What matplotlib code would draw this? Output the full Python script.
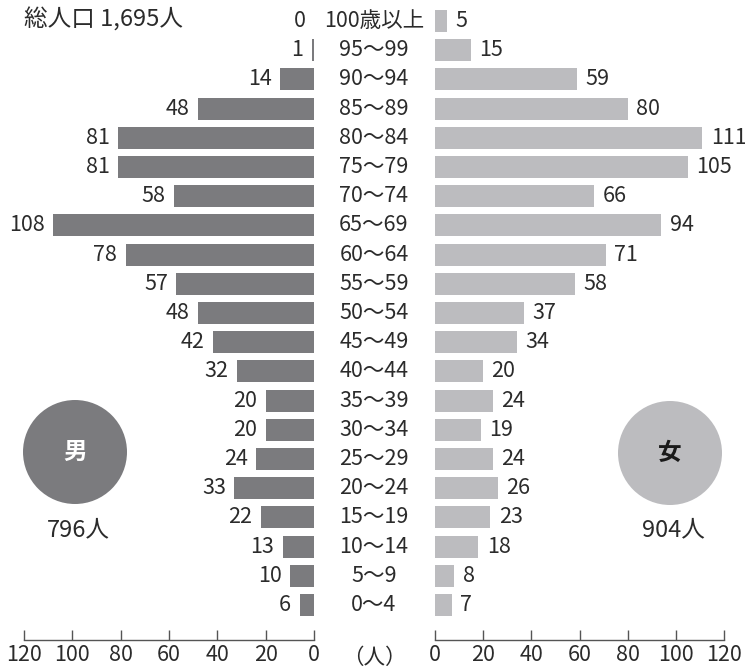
import matplotlib
matplotlib.use("Agg")
import matplotlib.pyplot as plt
from matplotlib.patches import Circle

FONT = ['Noto Sans CJK JP', 'DejaVu Sans']
plt.rcParams['font.family'] = FONT

age_labels = ["100歳以上", "95～99", "90～94", "85～89", "80～84", "75～79", "70～74",
              "65～69", "60～64", "55～59", "50～54", "45～49", "40～44", "35～39",
              "30～34", "25～29", "20～24", "15～19", "10～14", "5～9", "0～4"]
male = [0, 1, 14, 48, 81, 81, 58, 108, 78, 57, 48, 42, 32, 20, 20, 24, 33, 22, 13, 10, 6]
female = [5, 15, 59, 80, 111, 105, 66, 94, 71, 58, 37, 34, 20, 24, 19, 24, 26, 23, 18, 8, 7]
ticks = [0, 20, 40, 60, 80, 100, 120]
total_label = "総人口 1,695人"
male_total = "796人"
female_total = "904人"

MALE_C = "#7b7b7e"
FEMALE_C = "#bcbcbf"
TXT = "#2b2b2b"
FS = 15.5

W, H = 745, 670
fig = plt.figure(figsize=(W / 100, H / 100), dpi=100)

n = len(age_labels)
ypos = [n - 1 - i for i in range(n)]
ylim = (-1.2, n - 1 + 0.72)
bottom = 30 / H
height = 640 / H

axL = fig.add_axes([24 / W, bottom, 290 / W, height])
axR = fig.add_axes([435 / W, bottom, 289 / W, height])

axL.barh(ypos, male, height=0.75, color=MALE_C)
axR.barh(ypos, female, height=0.75, color=FEMALE_C)
axL.set_xlim(120, 0)
axR.set_xlim(0, 120)

for ax in (axL, axR):
    ax.set_ylim(*ylim)
    for s in ("top", "left", "right"):
        ax.spines[s].set_visible(False)
    ax.spines["bottom"].set_color("#555555")
    ax.spines["bottom"].set_linewidth(1.0)
    ax.set_yticks([])
    ax.set_xticks(ticks)
    ax.set_xticklabels([str(t) for t in ticks])
    ax.tick_params(axis="x", direction="in", length=7, width=1.0, color="#555555",
                   pad=3, labelsize=FS, labelcolor=TXT)
    ax.patch.set_alpha(0)

for y, v in zip(ypos, male):
    axL.annotate(str(v), (v, y), xytext=(-6, 0), textcoords="offset points",
                 ha="right", va="center", fontsize=FS, color=TXT)
for y, v in zip(ypos, female):
    axR.annotate(str(v), (v, y), xytext=(6, 0), textcoords="offset points",
                 ha="left", va="center", fontsize=FS, color=TXT)

# overlay in pixel coordinates for central labels and decorations
ov = fig.add_axes([0, 0, 1, 1])
ov.set_xlim(0, W)
ov.set_ylim(H, 0)
ov.axis("off")
ov.patch.set_alpha(0)

for y, lab in zip(ypos, age_labels):
    yd = axL.transData.transform((0, y))[1]
    ov.text(374, H - yd, lab, ha="center", va="center", fontsize=FS, color=TXT)

ov.text(374, 658, "（人）", ha="center", va="center", fontsize=FS, color=TXT)
ov.text(24, 20, total_label, ha="left", va="center", fontsize=17, color=TXT)

ov.add_patch(Circle((75, 452), 52, color=MALE_C, lw=0))
ov.add_patch(Circle((670, 453), 52, color=FEMALE_C, lw=0))
ov.text(75, 452, "男", ha="center", va="center", fontsize=17, color="white",
        fontweight="bold")
ov.text(670, 453, "女", ha="center", va="center", fontsize=17, color="#1a1a1a",
        fontweight="bold")
ov.text(78, 530, male_total, ha="center", va="center", fontsize=17, color=TXT)
ov.text(673, 530, female_total, ha="center", va="center", fontsize=17, color=TXT)

fig.savefig("out.png", dpi=100)
